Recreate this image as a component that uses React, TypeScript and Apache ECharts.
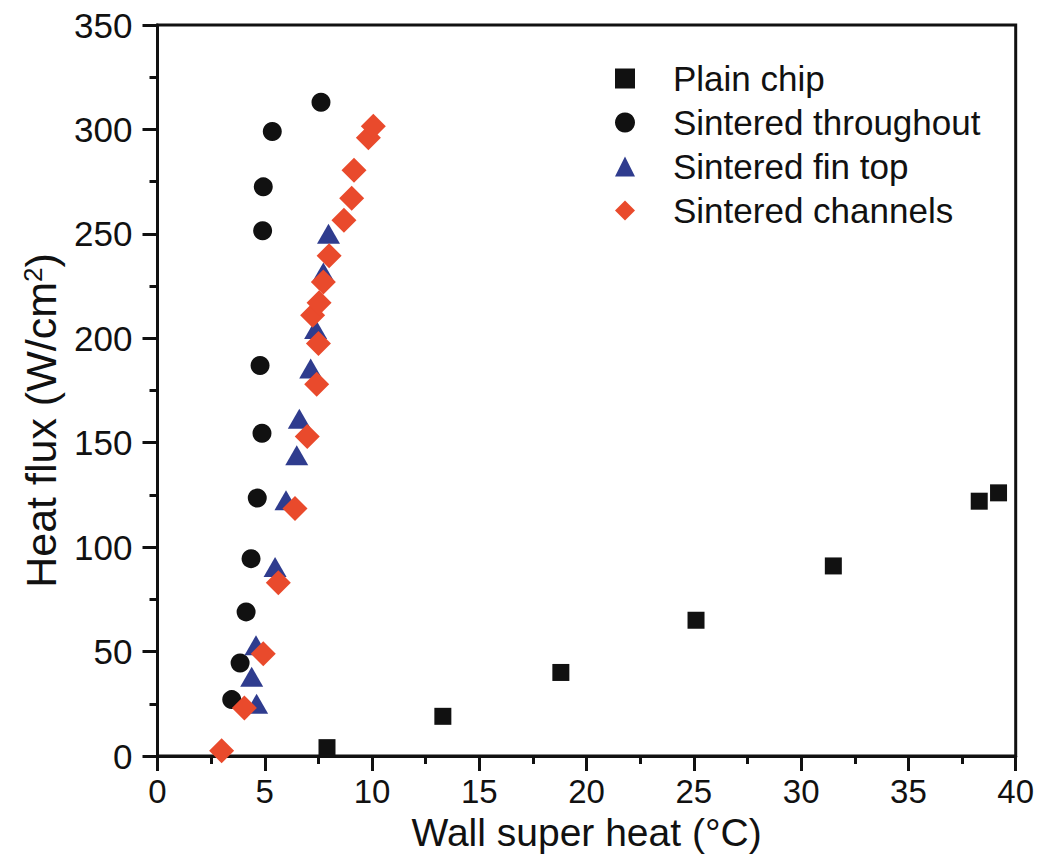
import React, { useEffect, useRef } from 'react';
import * as echarts from 'echarts';

const seriesNames = ['Plain chip', 'Sintered throughout', 'Sintered fin top', 'Sintered channels'];

const plainX = [7.9, 13.3, 18.8, 25.1, 31.5, 38.3, 39.2];
const plainY = [4, 19, 40, 65, 91, 122, 126];

const throughoutX = [3.46, 3.85, 4.13, 4.36, 4.65, 4.87, 4.78, 4.9, 4.93, 5.35, 7.62];
const throughoutY = [27, 44.5, 69, 94.5, 123.5, 154.5, 187, 251.5, 272.5, 299, 313];

const finTopX = [4.62, 4.39, 4.59, 5.48, 5.99, 6.49, 6.61, 7.14, 7.37, 7.73, 7.97];
const finTopY = [25, 38, 53, 90.5, 122.5, 144, 161.5, 185.5, 204.5, 231.5, 250];

const channelsX = [2.99, 4.05, 4.93, 5.63, 6.41, 6.98, 7.42, 7.5, 7.23, 7.53, 7.73, 8.0, 8.69, 9.05, 9.16, 9.83, 10.06];
const channelsY = [2.5, 23, 49, 83, 118.5, 153, 178, 197.5, 211, 217, 227, 239.5, 256.5, 267, 280.5, 296, 301.5];

const xTicks = { min: 0, max: 40, interval: 5 };
const yTicks = { min: 0, max: 350, interval: 50 };

const pairs = (xs: number[], ys: number[]) => xs.map((x, i) => [x, ys[i]]);

const FONT = '"Liberation Sans", Arial, sans-serif';
const INK = '#111111';

export default function App() {
  const ref = useRef<HTMLDivElement>(null);
  useEffect(() => {
    if (!ref.current) return;
    const chart = echarts.init(ref.current, undefined, { renderer: 'svg' });
    const axisCommon = {
      type: 'value' as const,
      nameLocation: 'middle' as const,
      nameMoveOverlap: false,
      axisLine: { show: true, lineStyle: { color: INK, width: 3 } },
      axisTick: { show: true, inside: false, length: 15, lineStyle: { color: INK, width: 3 } },
      minorTick: { show: true, splitNumber: 2, length: 8, lineStyle: { color: INK, width: 3 } },
      splitLine: { show: false },
    };
    chart.setOption({
      animation: false,
      backgroundColor: '#ffffff',
      textStyle: { fontFamily: FONT },
      grid: {
        left: 157.5, right: 24.3, top: 25, bottom: 101,
        containLabel: false, outerBoundsMode: 'none',
        show: true, borderColor: INK, borderWidth: 3,
      },
      legend: {
        orient: 'vertical',
        left: 610,
        top: 56,
        itemWidth: 20,
        itemHeight: 20,
        itemGap: 9,
        data: [
          { name: seriesNames[0], icon: 'path://M0,0H10V10H0Z' },
          { name: seriesNames[1], icon: 'circle' },
          { name: seriesNames[2], icon: 'triangle' },
          { name: seriesNames[3], icon: 'diamond' },
        ],
        textStyle: { color: INK, fontSize: 35, fontFamily: FONT, padding: [0, 0, 0, 33], lineHeight: 20 },
      },
      xAxis: {
        ...axisCommon,
        ...xTicks,
        axisLabel: { color: INK, fontSize: 33, fontFamily: FONT, margin: 19, lineHeight: 33 },
        name: 'Wall super heat (°C)',
        nameGap: 57,
        nameTextStyle: { color: INK, fontSize: 39, fontFamily: FONT, lineHeight: 39 },
      },
      yAxis: {
        ...axisCommon,
        ...yTicks,
        axisLabel: { color: INK, fontSize: 35, fontFamily: FONT, margin: 25 },
        name: '{n|Heat flux (W/cm}{s|2}{n|)}',
        nameGap: 95,
        nameTextStyle: {
          color: INK,
          fontSize: 43,
          fontFamily: FONT,
          padding: [0, 60, 0, 0],
          rich: {
            n: { color: INK, fontSize: 43, fontFamily: FONT },
            s: { color: INK, fontSize: 26, fontFamily: FONT, verticalAlign: 'top' },
          },
        },
      },
      series: [
        {
          name: seriesNames[0], type: 'scatter', symbol: 'rect', symbolSize: 17,
          itemStyle: { color: INK, opacity: 1 }, data: pairs(plainX, plainY),
        },
        {
          name: seriesNames[1], type: 'scatter', symbol: 'circle', symbolSize: 19,
          itemStyle: { color: INK, opacity: 1 }, data: pairs(throughoutX, throughoutY),
        },
        {
          name: seriesNames[2], type: 'scatter', symbol: 'triangle', symbolSize: [23, 20],
          itemStyle: { color: '#2f3c8e', opacity: 1 }, data: pairs(finTopX, finTopY),
        },
        {
          name: seriesNames[3], type: 'scatter', symbol: 'diamond', symbolSize: [25, 25],
          itemStyle: { color: '#e94a2c', opacity: 1 }, data: pairs(channelsX, channelsY),
        },
      ],
    });
    return () => chart.dispose();
  }, []);
  return (
    <div
      ref={ref}
      style={{ position: 'fixed', left: 0, top: 0, width: 1040, height: 857, background: '#fff' }}
    />
  );
}
